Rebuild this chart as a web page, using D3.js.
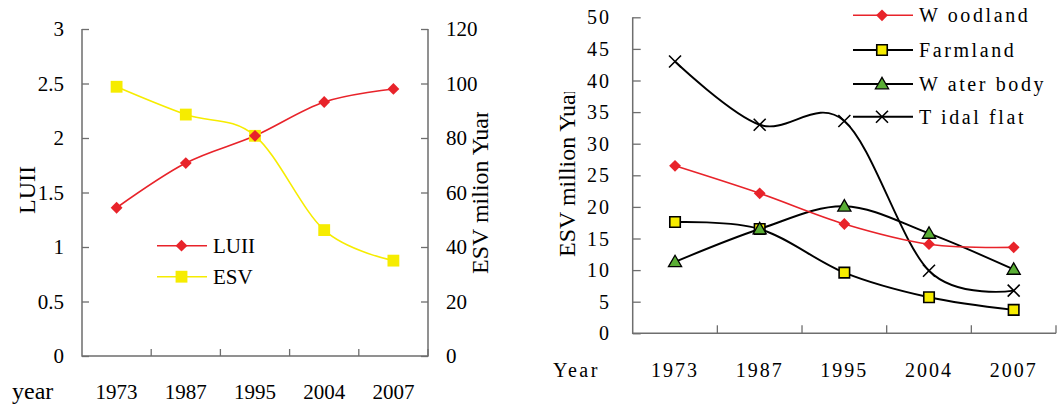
<!DOCTYPE html>
<html>
<head>
<meta charset="utf-8">
<script src="https://cdn.jsdelivr.net/npm/d3@7"></script>
<style>
  body { margin: 0; background: #fff; }
  svg text { font-family: "Liberation Serif", "DejaVu Serif", serif; }
</style>
</head>
<body>
<svg id="chart" width="1059" height="406" font-family="Liberation Serif"></svg>
<script>
// ---- data ----
const years = ['1973', '1987', '1995', '2004', '2007'];

// left panel
const luii = [1.36, 1.77, 2.02, 2.33, 2.45];
const esvTotal = [98.8, 88.6, 80.8, 46.2, 35.0];
const luiiTicks = [0, 0.5, 1, 1.5, 2, 2.5, 3];
const esvTicks = [0, 20, 40, 60, 80, 100, 120];

// right panel
const woodland = [26.5, 22.15, 17.3, 14.1, 13.6];
const farmland = [17.6, 16.5, 9.6, 5.7, 3.7];
const waterBody = [11.3, 16.5, 20.1, 15.8, 10.1];
const tidalFlat = [43.0, 33.0, 33.6, 9.9, 6.75];
const rightTicks = [0, 5, 10, 15, 20, 25, 30, 35, 40, 45, 50];

const RED = '#e8232a', YEL = '#f6ec00', GRN = '#5aae35', AX = '#6e6e6e';
const FONT = 'Liberation Serif, DejaVu Serif, serif';

const svg = d3.select('#chart');
const smooth = d3.curveCardinal.tension(0);

function drawMarker(parent, type, x, y, fill, stroke) {
    const g = parent.append('g').attr('transform', `translate(${x},${y})`);
    if (type === 'diamond') {
        g.append('path').attr('d', d3.symbol(d3.symbolSquare, 70)())
            .attr('transform', 'rotate(45)').attr('fill', fill);
    } else if (type === 'square') {
        g.append('path').attr('d', d3.symbol(d3.symbolSquare, stroke ? 110 : 140)())
            .attr('fill', fill).attr('stroke', stroke || 'none').attr('stroke-width', 1.6);
    } else if (type === 'triangle') {
        g.append('path').attr('d', d3.symbol(d3.symbolTriangle, 75)())
            .attr('transform', 'translate(0,1)')
            .attr('fill', fill).attr('stroke', stroke).attr('stroke-width', 1.3);
    } else if (type === 'x') {
        g.append('path').attr('d', 'M-6,-6L6,6M-6,6L6,-6')
            .attr('stroke', stroke).attr('stroke-width', 1.6).attr('fill', 'none');
    }
}

// ================= left panel =================
const L = {x0: 82, x1: 428, y0: 356, y1: 29};
const xL = d3.scaleBand().domain(years).range([L.x0, L.x1]);
const yLuii = d3.scaleLinear().domain([0, 3]).range([L.y0, L.y1]);
const yEsv = d3.scaleLinear().domain([0, 120]).range([L.y0, L.y1]);

const left = svg.append('g').attr('font-family', FONT);

// axes (ticks point inward)
left.append('g').attr('transform', `translate(${L.x0},0)`)
    .call(d3.axisRight(yLuii).tickValues(luiiTicks).tickSize(7).tickFormat(''))
    .call(g => g.select('.domain').remove());
left.append('g').attr('transform', `translate(${L.x1},0)`)
    .call(d3.axisLeft(yEsv).tickValues(esvTicks).tickSize(7).tickFormat(''))
    .call(g => g.select('.domain').remove());
left.selectAll('.tick line').attr('stroke', AX).attr('stroke-width', 1.3);

left.append('g').selectAll('line').data(years)
    .join('line')
    .attr('x1', (d, i) => L.x0 + xL.step() * (i + 1))
    .attr('x2', (d, i) => L.x0 + xL.step() * (i + 1))
    .attr('y1', L.y0).attr('y2', L.y0 - 7)
    .attr('stroke', AX).attr('stroke-width', 1.3);

left.append('path')
    .attr('d', `M${L.x0},${L.y1}V${L.y0}H${L.x1}V${L.y1}`)
    .attr('fill', 'none').attr('stroke', AX).attr('stroke-width', 1.5);

// tick labels
left.selectAll('text.yl').data(luiiTicks).join('text')
    .attr('x', 64).attr('y', d => yLuii(d)).attr('dy', '0.35em')
    .attr('text-anchor', 'end').attr('font-size', 21).text(d => d);
left.selectAll('text.yr').data(esvTicks).join('text')
    .attr('x', 446).attr('y', d => yEsv(d)).attr('dy', '0.35em')
    .attr('font-size', 21).text(d => d);
left.selectAll('text.xl').data(years).join('text')
    .attr('x', d => xL(d) + xL.bandwidth() / 2).attr('y', 399)
    .attr('text-anchor', 'middle').attr('font-size', 21).text(d => d);
left.append('text').attr('x', 12).attr('y', 399).attr('font-size', 24).text('year');

// axis titles
left.append('text').attr('transform', 'translate(35,190) rotate(-90)')
    .attr('text-anchor', 'middle').attr('font-size', 24).text('LUII');
svg.append('clipPath').attr('id', 'clipL')
    .append('rect').attr('x', 440).attr('y', 112).attr('width', 80).attr('height', 250);
left.append('g').attr('clip-path', 'url(#clipL)')
    .append('text')
    .attr('transform', 'translate(488,274) rotate(-90)')
    .attr('font-size', 24).text('ESV milion Yuan');

// series
const cx = (d, i) => xL(years[i]) + xL.bandwidth() / 2;
left.append('path').datum(esvTotal)
    .attr('d', d3.line().x(cx).y(d => yEsv(d)).curve(smooth))
    .attr('fill', 'none').attr('stroke', YEL).attr('stroke-width', 1.6);
left.append('path').datum(luii)
    .attr('d', d3.line().x(cx).y(d => yLuii(d)).curve(smooth))
    .attr('fill', 'none').attr('stroke', RED).attr('stroke-width', 1.6);
esvTotal.forEach((v, i) => drawMarker(left, 'square', cx(v, i), yEsv(v), YEL));
luii.forEach((v, i) => drawMarker(left, 'diamond', cx(v, i), yLuii(v), RED));

// legend
[['LUII', RED, 'diamond', 245.7], ['ESV', YEL, 'square', 276.7]].forEach(([name, c, t, y]) => {
    left.append('line').attr('x1', 157).attr('x2', 207).attr('y1', y).attr('y2', y)
        .attr('stroke', c).attr('stroke-width', 1.6);
    drawMarker(left, t, 181.5, y, c);
    left.append('text').attr('x', 213).attr('y', y).attr('dy', '0.35em')
        .attr('font-size', 21).text(name);
});

// ================= right panel =================
const R = {x0: 632.7, x1: 1056, y0: 333.3, y1: 17.3};
const xR = d3.scaleBand().domain(years).range([R.x0, R.x1]);
const yR = d3.scaleLinear().domain([0, 50]).range([R.y0, R.y1]);
const right = svg.append('g').attr('font-family', FONT).attr('letter-spacing', 2);

right.append('g').attr('transform', `translate(${R.x0},0)`)
    .call(d3.axisRight(yR).tickValues(rightTicks).tickSize(8).tickFormat(''))
    .call(g => g.select('.domain').remove())
    .selectAll('.tick line').attr('stroke', AX).attr('stroke-width', 1.3);
right.append('g').selectAll('line').data(years)
    .join('line')
    .attr('x1', (d, i) => R.x0 + xR.step() * (i + 1))
    .attr('x2', (d, i) => R.x0 + xR.step() * (i + 1))
    .attr('y1', R.y0).attr('y2', R.y0 - 8)
    .attr('stroke', AX).attr('stroke-width', 1.3);
right.append('path')
    .attr('d', `M${R.x0},${R.y1}V${R.y0}H${R.x1}`)
    .attr('fill', 'none').attr('stroke', AX).attr('stroke-width', 1.5);

right.selectAll('text.yl').data(rightTicks).join('text')
    .attr('x', 611).attr('y', d => yR(d)).attr('dy', '0.35em')
    .attr('text-anchor', 'end').attr('font-size', 20).text(d => d);
right.selectAll('text.xl').data(years).join('text')
    .attr('x', d => xR(d) + xR.bandwidth() / 2).attr('y', 377)
    .attr('text-anchor', 'middle').attr('font-size', 20).text(d => d);
right.append('text').attr('x', 553).attr('y', 377).attr('font-size', 20)
    .attr('letter-spacing', 2.5).text('Year');

svg.append('clipPath').attr('id', 'clipR')
    .append('rect').attr('x', 540).attr('y', 92).attr('width', 60).attr('height', 250);
svg.append('g').attr('clip-path', 'url(#clipR)')
    .append('text').attr('font-family', FONT)
    .attr('transform', 'translate(575,257) rotate(-90)')
    .attr('font-size', 24).text('ESV million Yuan');

const rx = (d, i) => xR(years[i]) + xR.bandwidth() / 2;
const rline = d3.line().x(rx).y(d => yR(d)).curve(smooth);

const rSeries = [
    {name: 'W oodland', values: woodland, color: RED, type: 'diamond', fill: RED, stroke: null},
    {name: 'Farmland', values: farmland, color: '#000', type: 'square', fill: YEL, stroke: '#000'},
    {name: 'W ater body', values: waterBody, color: '#000', type: 'triangle', fill: GRN, stroke: '#000'},
    {name: 'T idal flat', values: tidalFlat, color: '#000', type: 'x', fill: 'none', stroke: '#000'}
];

rSeries.slice().reverse().forEach(s => {
    right.append('path').datum(s.values).attr('d', rline)
        .attr('fill', 'none').attr('stroke', s.color)
        .attr('stroke-width', s.color === RED ? 1.6 : 1.9);
});
rSeries.forEach(s => {
    s.values.forEach((v, i) => drawMarker(right, s.type, rx(v, i), yR(v), s.fill, s.stroke));
});

const legY = [15.3, 50, 84, 116.7];
rSeries.forEach((s, k) => {
    const y = legY[k];
    right.append('line').attr('x1', 853).attr('x2', 913).attr('y1', y).attr('y2', y)
        .attr('stroke', s.color).attr('stroke-width', s.color === RED ? 1.6 : 1.9);
    drawMarker(right, s.type, 882, y, s.fill, s.stroke);
    right.append('text').attr('x', 919).attr('y', y).attr('dy', '0.35em')
        .attr('font-size', 20).attr('letter-spacing', 2.6).text(s.name);
});
</script>
</body>
</html>
